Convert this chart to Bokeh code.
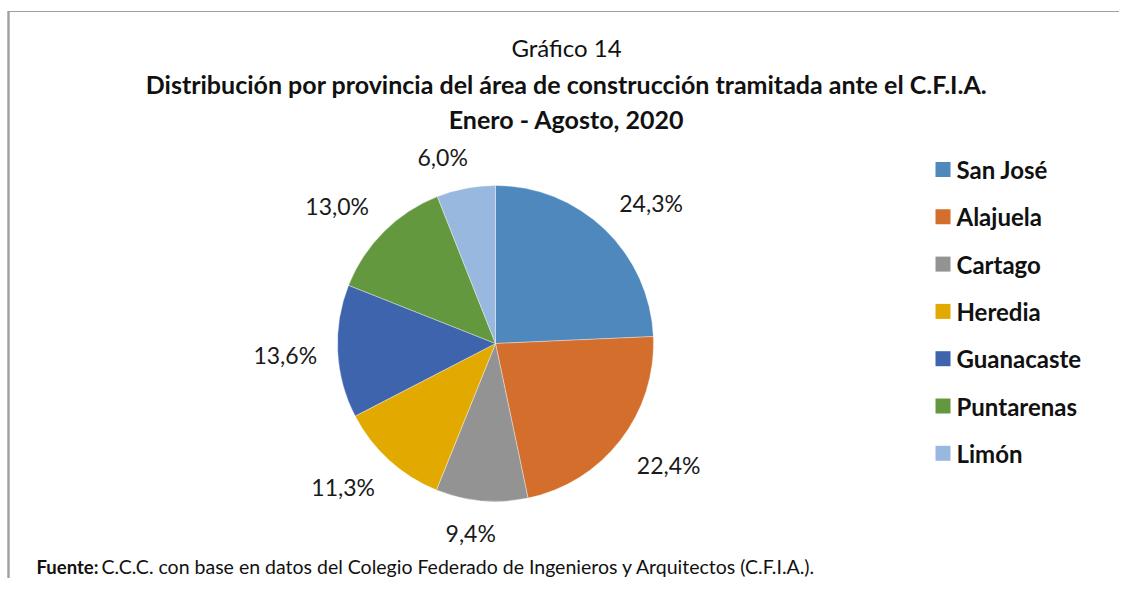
import math
from bokeh.plotting import figure
from bokeh.models import Range1d
from bokeh.core.properties import value
from bokeh.embed import file_html
from bokeh.resources import INLINE

provincias = ["San José", "Alajuela", "Cartago", "Heredia", "Guanacaste", "Puntarenas", "Limón"]
porcentajes = [24.3, 22.4, 9.4, 11.3, 13.6, 13.0, 6.0]
etiquetas = ["24,3%", "22,4%", "9,4%", "11,3%", "13,6%", "13,0%", "6,0%"]
colores = ["#4F88BC", "#D46E2C", "#939393", "#E2AA00", "#3D64AD", "#63983E", "#98B8E0"]

titulo1 = "Gráfico 14"
titulo2 = "Distribución por provincia del área de construcción tramitada ante el C.F.I.A."
titulo3 = "Enero - Agosto, 2020"
fuente_b = "Fuente:"
fuente_t = "C.C.C. con base en datos del Colegio Federado de Ingenieros y Arquitectos (C.F.I.A.)."

FONT = "Lato"
W, H = 1119, 578


def Y(y):
    return H - y


p = figure(width=W, height=H, output_backend="svg", toolbar_location=None,
           x_range=Range1d(0, W), y_range=Range1d(0, H),
           min_border=0, outline_line_color=None)
p.axis.visible = False
p.grid.visible = False
p.background_fill_color = "white"
p.border_fill_color = "white"

# frame (top and left edges visible)
p.segment(x0=[7, 8], y0=[Y(11), Y(11)], x1=[W + 20, 8], y1=[Y(11), Y(H + 20)],
          line_color="#A0A0A0", line_width=[1.2, 2.4])

# pie
cx, cy, R = 495, Y(343), 158
total = sum(porcentajes)
starts, ends, mids = [], [], []
cum = 0.0
for v in porcentajes:
    a0 = math.pi / 2 - 2 * math.pi * cum / total
    cum += v
    a1 = math.pi / 2 - 2 * math.pi * cum / total
    starts.append(a0)
    ends.append(a1)
    mids.append((a0 + a1) / 2)

p.wedge(x=cx, y=cy, radius=R, start_angle=starts, end_angle=ends, direction="clock",
        fill_color=colores, line_color="white", line_width=0.6, line_alpha=0.6)


def clip(v):
    return max(-1.0, min(1.0, v))


# labels outside end
lx, ly = [], []
for lab, m in zip(etiquetas, mids):
    dx, dy = math.cos(m), math.sin(m)
    hw = 6.5 * len(lab)
    hh = 12
    lx.append(cx + (R + 20) * dx + hw * clip(4 * dx))
    ly.append(cy + (R + 20) * dy + hh * clip(4 * dy))
p.text(x=lx, y=ly, text=etiquetas, text_align="center", text_baseline="middle",
       text_font=value(FONT), text_font_size="23px", text_color="#1A1A1A")

# titles
p.text(x=[566], y=[Y(47)], text=[titulo1], text_align="center", text_baseline="middle",
       text_font=value(FONT), text_font_size="24px", text_color="#111111")
p.text(x=[566, 566], y=[Y(83), Y(118)], text=[titulo2, titulo3], text_align="center",
       text_baseline="middle", text_font=value(FONT), text_font_size="25px",
       text_font_style="bold", text_color="#111111")

# legend
ley_y = [Y(169 + i * 47.3) for i in range(len(provincias))]
p.rect(x=[942.5] * len(provincias), y=ley_y, width=15, height=15,
       fill_color=colores, line_color=None)
p.text(x=[956] * len(provincias), y=ley_y, text=provincias, text_align="left",
       text_baseline="middle", text_font=value(FONT), text_font_size="24px",
       text_font_style="bold", text_color="#111111")

# source
p.text(x=[36], y=[Y(566)], text=[fuente_b], text_align="left", text_baseline="middle",
       text_font=value(FONT), text_font_size="18.5px", text_font_style="bold",
       text_color="#111111")
p.text(x=[101], y=[Y(566)], text=[fuente_t], text_align="left", text_baseline="middle",
       text_font=value(FONT), text_font_size="19.5px", text_color="#111111")

open("out.html", "w").write(file_html(p, INLINE))
